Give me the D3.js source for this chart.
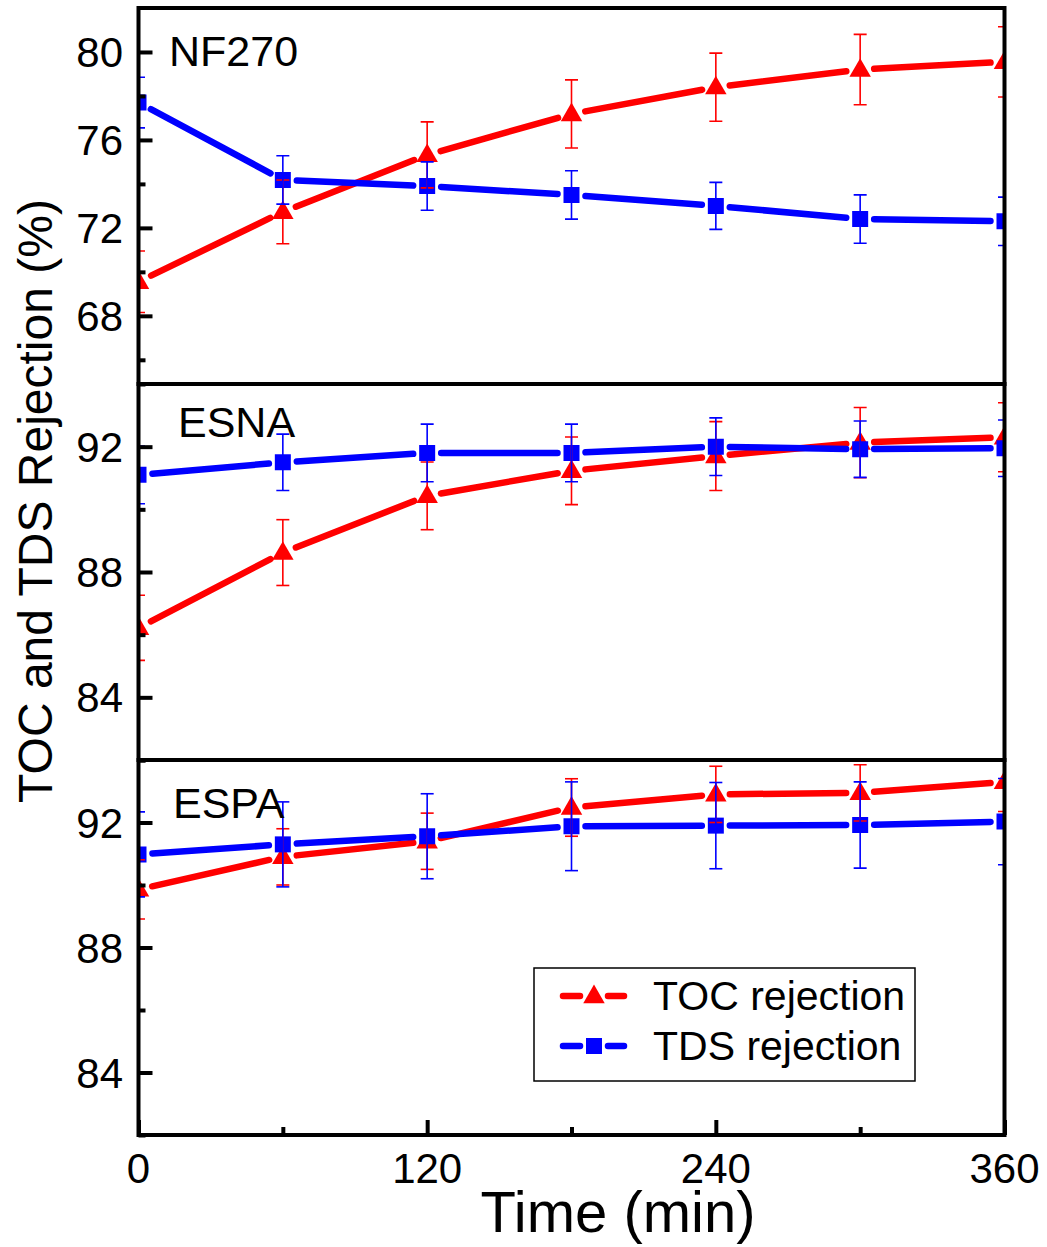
<!DOCTYPE html>
<html>
<head>
<meta charset="utf-8">
<script src="https://cdn.jsdelivr.net/npm/d3@7"></script>
<style>
  body { margin: 0; background: #fff; }
  svg text { font-family: "Liberation Sans", Arial, sans-serif; fill: #000; }
</style>
</head>
<body>
<div id="chart"></div>
<script>
// sampling times (min)
var times = [0, 60, 120, 180, 240, 300, 360]

// NF270
var nf270Toc    = [69.55, 72.73, 75.32, 77.18, 78.4, 79.2, 79.55]
var nf270TocErr = [1.4, 1.45, 1.5, 1.55, 1.55, 1.6, 1.6]
var nf270Tds    = [77.7, 74.18, 73.9, 73.5, 73.0, 72.4, 72.3]
var nf270TdsErr = [1.15, 1.1, 1.1, 1.1, 1.07, 1.1, 1.1]

// ESNA
var esnaToc    = [86.22, 88.62, 90.43, 91.23, 91.7, 92.13, 92.3]
var esnaTocErr = [1.04, 1.05, 1.08, 1.08, 1.1, 1.12, 1.1]
var esnaTds    = [91.1, 91.5, 91.8, 91.8, 92.0, 91.92, 91.95]
var esnaTdsErr = [0.92, 0.9, 0.92, 0.92, 0.92, 0.9, 0.9]

// ESPA
var espaToc    = [89.86, 90.9, 91.4, 92.48, 92.9, 92.95, 93.3]
var espaTocErr = [0.95, 0.9, 0.9, 0.92, 0.9, 0.9, 0.95]
var espaTds    = [90.98, 91.3, 91.56, 91.88, 91.9, 91.92, 92.03]
var espaTdsErr = [1.36, 1.36, 1.36, 1.42, 1.38, 1.38, 1.38]

var panelNames = ["NF270", "ESNA", "ESPA"]
var yDomains = [[64.9, 82], [82, 94], [82, 94]]
var yMajor = [[68, 72, 76, 80], [84, 88, 92], [84, 88, 92]]
var yMinor = [[66, 70, 74, 78], [82, 86, 90, 94], [82, 86, 90, 94]]
var xMajor = [0, 120, 240, 360]
var xMinor = [60, 180, 300]
var seriesNames = ["TOC rejection", "TDS rejection"]
var colors = ["#ff0000", "#0000ff"]

var panelData = [
    [{v: nf270Toc, e: nf270TocErr}, {v: nf270Tds, e: nf270TdsErr}],
    [{v: esnaToc, e: esnaTocErr}, {v: esnaTds, e: esnaTdsErr}],
    [{v: espaToc, e: espaTocErr}, {v: espaTds, e: espaTdsErr}]
]

var W = 1047, H = 1247
var left = 138.5, right = 1004.5
var bands = [[8, 384], [384, 760], [760, 1135]]
var labelPos = [[169, 66], [178, 437], [173, 818]]

var svg = d3.select("#chart").append("svg")
    .attr("width", W).attr("height", H)

var x = d3.scaleLinear().domain([0, 360]).range([left, right])

var triangle = d3.symbol().type(d3.symbolTriangle).size(200)
var square = d3.symbol().type(d3.symbolSquare).size(256)
var symbols = [triangle, square]

// line segments with a gap around each marker
function gapSegments(pts, gap) {
    var segs = []
    for (var i = 0; i < pts.length - 1; i++) {
        var a = pts[i], b = pts[i + 1]
        var dx = b[0] - a[0], dy = b[1] - a[1]
        var len = Math.sqrt(dx * dx + dy * dy)
        if (len <= 2 * gap) continue
        var ux = dx / len, uy = dy / len
        segs.push([a[0] + ux * gap, a[1] + uy * gap, b[0] - ux * gap, b[1] - uy * gap])
    }
    return segs
}

panelNames.forEach(function(name, p) {
    var top = bands[p][0], bottom = bands[p][1]
    var y = d3.scaleLinear().domain(yDomains[p]).range([bottom, top])

    svg.append("clipPath").attr("id", "clip" + p)
        .append("rect")
        .attr("x", left).attr("y", top)
        .attr("width", right - left).attr("height", bottom - top)

    var g = svg.append("g").attr("clip-path", "url(#clip" + p + ")")

    // lines + markers, one series after the other
    panelData[p].forEach(function(s, k) {
        var pts = times.map(function(t, i) { return [x(t), y(s.v[i])] })
        g.selectAll(".seg" + k)
            .data(gapSegments(pts, 14))
            .enter().append("line")
            .attr("x1", function(d) { return d[0] }).attr("y1", function(d) { return d[1] })
            .attr("x2", function(d) { return d[2] }).attr("y2", function(d) { return d[3] })
            .attr("stroke", colors[k]).attr("stroke-width", 6.5)
            .attr("stroke-linecap", "round")

        g.selectAll(".mk" + k)
            .data(pts)
            .enter().append("path")
            .attr("d", symbols[k])
            .attr("transform", function(d) { return "translate(" + d[0] + "," + (d[1] + (k === 0 ? 1 : 0)) + ")" })
            .attr("fill", colors[k])
    })

    // error bars on top
    panelData[p].forEach(function(s, k) {
        var eb = g.append("g").attr("stroke", colors[k]).attr("stroke-width", 1.6).attr("fill", "none")
        times.forEach(function(t, i) {
            var cx = x(t), y0 = y(s.v[i] - s.e[i]), y1 = y(s.v[i] + s.e[i])
            eb.append("line").attr("x1", cx).attr("x2", cx).attr("y1", y0).attr("y2", y1)
            eb.append("line").attr("x1", cx - 6.5).attr("x2", cx + 6.5).attr("y1", y0).attr("y2", y0)
            eb.append("line").attr("x1", cx - 6.5).attr("x2", cx + 6.5).attr("y1", y1).attr("y2", y1)
        })
    })

    // y axis ticks (inward) and labels
    var yAxis = d3.axisRight(y)
        .tickValues(yMajor[p]).tickSize(14).tickFormat("")
    svg.append("g").attr("transform", "translate(" + left + ",0)")
        .call(yAxis)
        .call(function(a) { a.select(".domain").remove() })
        .selectAll("line").attr("stroke", "#000").attr("stroke-width", 4)

    var yMinorAxis = d3.axisRight(y).tickValues(yMinor[p]).tickSize(7).tickFormat("")
    svg.append("g").attr("transform", "translate(" + left + ",0)")
        .call(yMinorAxis)
        .call(function(a) { a.select(".domain").remove() })
        .selectAll("line").attr("stroke", "#000").attr("stroke-width", 4)

    svg.append("g").selectAll("text")
        .data(yMajor[p]).enter().append("text")
        .attr("x", 123).attr("y", function(d) { return y(d) + 15 })
        .attr("text-anchor", "end").attr("font-size", 42)
        .text(function(d) { return d })

    svg.append("text")
        .attr("x", labelPos[p][0]).attr("y", labelPos[p][1])
        .attr("font-size", 43).text(name)

    // frame
    svg.append("rect")
        .attr("x", left).attr("y", top)
        .attr("width", right - left).attr("height", bottom - top)
        .attr("fill", "none").attr("stroke", "#000").attr("stroke-width", 4)

    if (p === panelNames.length - 1) {
        var xAxis = d3.axisTop(x).tickValues(xMajor).tickSize(15).tickFormat("")
        svg.append("g").attr("transform", "translate(0," + bottom + ")")
            .call(xAxis)
            .call(function(a) { a.select(".domain").remove() })
            .selectAll("line").attr("stroke", "#000").attr("stroke-width", 4)
        var xMinorAxis = d3.axisTop(x).tickValues(xMinor).tickSize(8).tickFormat("")
        svg.append("g").attr("transform", "translate(0," + bottom + ")")
            .call(xMinorAxis)
            .call(function(a) { a.select(".domain").remove() })
            .selectAll("line").attr("stroke", "#000").attr("stroke-width", 4)

        svg.append("g").selectAll("text")
            .data(xMajor).enter().append("text")
            .attr("x", function(d) { return x(d) }).attr("y", bottom + 48)
            .attr("text-anchor", "middle").attr("font-size", 42)
            .text(function(d) { return d })

        // legend
        var lg = svg.append("g")
        lg.append("rect").attr("x", 534).attr("y", 968).attr("width", 381).attr("height", 113)
            .attr("fill", "#fff").attr("stroke", "#000").attr("stroke-width", 1.5)
        seriesNames.forEach(function(sn, k) {
            var ly = 996 + k * 50
            gapSegments([[549, ly], [594, ly], [638, ly]], 14).forEach(function(d) {
                lg.append("line")
                    .attr("x1", d[0]).attr("y1", d[1]).attr("x2", d[2]).attr("y2", d[3])
                    .attr("stroke", colors[k]).attr("stroke-width", 6.5).attr("stroke-linecap", "round")
            })
            lg.append("path").attr("d", symbols[k])
                .attr("transform", "translate(594," + (ly + (k === 0 ? 1 : 0)) + ")")
                .attr("fill", colors[k])
            lg.append("text").attr("x", 653).attr("y", ly + 14)
                .attr("font-size", 41).text(sn)
        })
    }
})

// axis titles
svg.append("text")
    .attr("transform", "translate(52,501) rotate(-90)")
    .attr("text-anchor", "middle").attr("font-size", 48)
    .text("TOC and TDS Rejection (%)")

svg.append("text")
    .attr("x", 618).attr("y", 1232)
    .attr("text-anchor", "middle").attr("font-size", 58)
    .text("Time (min)")
</script>
</body>
</html>
